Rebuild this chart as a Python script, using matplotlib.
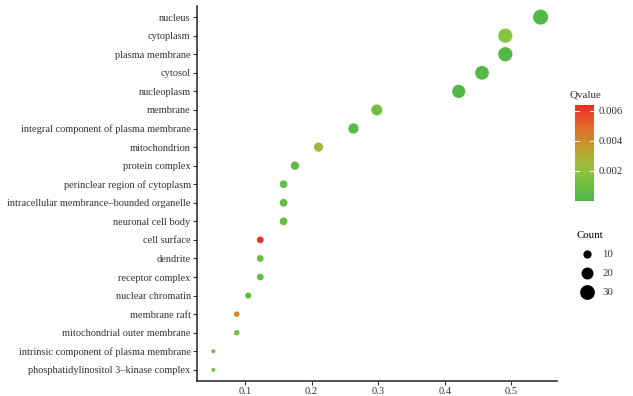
import numpy as np
import matplotlib
matplotlib.use("Agg")
import matplotlib.pyplot as plt
from matplotlib.colors import LinearSegmentedColormap, Normalize
from matplotlib.colorbar import ColorbarBase

plt.rcParams['font.family'] = ['Liberation Serif', 'DejaVu Serif']

# GO cellular component terms, top to bottom
terms = ["nucleus", "cytoplasm", "plasma membrane", "cytosol", "nucleoplasm",
         "membrane", "integral component of plasma membrane", "mitochondrion",
         "protein complex", "perinclear region of cytoplasm",
         "intracellular membrance\u2013bounded organelle", "neuronal cell body",
         "cell surface", "dendrite", "receptor complex", "nuclear chromatin",
         "membrane raft", "mitochondrial outer membrane",
         "intrinsic component of plasma membrane",
         "phosphatidylinositol 3\u2013kinase complex"]
ratio = [0.544, 0.491, 0.491, 0.456, 0.421, 0.298, 0.263, 0.2105, 0.175, 0.158,
         0.158, 0.158, 0.123, 0.123, 0.123, 0.105, 0.0877, 0.0877, 0.0526, 0.0526]
count = [31, 28, 28, 26, 24, 17, 15, 12, 10, 9, 9, 9, 7, 7, 7, 6, 5, 5, 3, 3]
qvalue = [0.0002, 0.0018, 0.0003, 0.0003, 0.0002, 0.0012, 0.0004, 0.0025,
          0.0006, 0.0009, 0.0008, 0.0008, 0.0063, 0.0009, 0.0008, 0.0007,
          0.0042, 0.0011, 0.0042, 0.0012]
size_breaks = [10, 20, 30]
q_ticks = [0.002, 0.004, 0.006]

cmap = LinearSegmentedColormap.from_list(
    "gr", [(0.0, "#4BB648"), (0.31, "#8DC53F"), (0.48, "#B3AC34"),
           (0.625, "#CB8E2A"), (0.8, "#E2642A"), (1.0, "#EE2E24")])
norm = Normalize(0, 0.0064)

cmin, cmax = min(count), max(count)
def area(c):
    return 8 + (np.asarray(c) - cmin) / (cmax - cmin) * 109

fig = plt.figure(figsize=(6.33, 3.96), dpi=100)
ax = fig.add_axes([0.3112, 0.0379, 0.5687, 0.947])

y = np.arange(len(terms))[::-1]
ax.scatter(ratio, y, s=area(count), c=qvalue, cmap=cmap, norm=norm,
           linewidths=0, zorder=3)
ax.set_yticks(y)
ax.set_yticklabels(terms, fontsize=7.45, color="#333333")
ax.set_ylim(-0.6, len(terms) - 0.4)
xr = max(ratio) - min(ratio)
ax.set_xlim(min(ratio) - 0.05 * xr, max(ratio) + 0.05 * xr)
ax.set_xticks([0.1, 0.2, 0.3, 0.4, 0.5])
ax.set_xticklabels(["0.1", "0.2", "0.3", "0.4", "0.5"], fontsize=7.6, color="#333333")
for s in ["top", "right"]:
    ax.spines[s].set_visible(False)
for s in ["left", "bottom"]:
    ax.spines[s].set_color("#222222")
    ax.spines[s].set_linewidth(1.1)
ax.tick_params(length=3, width=0.8, color="#333333", pad=1.5)

# colour legend
cax = fig.add_axes([575 / 633, 1 - 201 / 396, 19 / 633, 96 / 396])
cb = ColorbarBase(cax, cmap=cmap, norm=norm, ticks=q_ticks)
cb.outline.set_visible(False)
cb.ax.tick_params(labelsize=7.8, length=0, pad=3, labelcolor="#333333")
cb.ax.set_yticklabels(["0.002", "0.004", "0.006"])
for t in q_ticks:
    cax.plot([0, 0.2], [t, t], color="white", lw=0.7)
    cax.plot([0.8, 1], [t, t], color="white", lw=0.7)
fig.text(570 / 633, 1 - 95 / 396, "Qvalue", fontsize=7.8, color="#333333",
         va="center", ha="left")

# size legend
handles = [ax.scatter([], [], s=area(c), color="black", linewidths=0)
           for c in size_breaks]
leg = ax.legend(handles, [str(c) for c in size_breaks], title="Count",
                frameon=False, fontsize=7.8, title_fontsize=7.8,
                loc="upper left", bbox_to_anchor=(571 / 633, 1 - 226 / 396),
                bbox_transform=fig.transFigure, labelspacing=0.85,
                handletextpad=0.4, borderpad=0, alignment="left")
for t in leg.get_texts():
    t.set_color("#333333")

fig.savefig("out.png", dpi=100)
